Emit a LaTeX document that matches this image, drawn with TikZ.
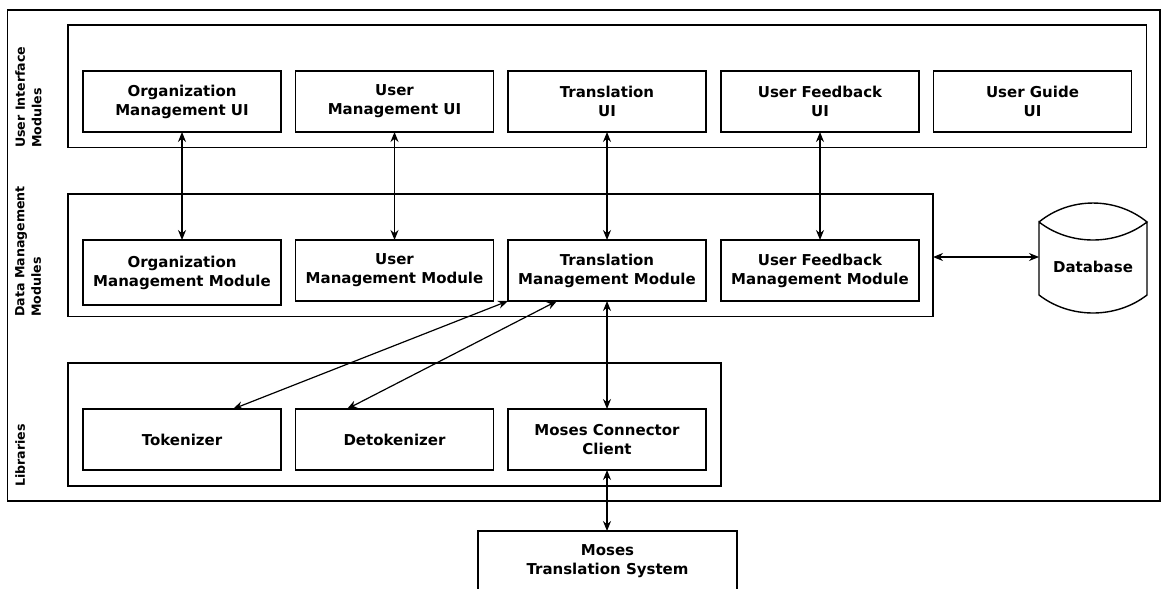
\documentclass[tikz,border=0pt]{standalone}
\usepackage{fontspec}
\setmainfont{DejaVu Sans}
\usetikzlibrary{arrows.meta,calc}
\begin{document}
\begin{tikzpicture}[x=1pt,y=-1pt,
  box/.style={draw, line width=1.4pt, inner sep=0pt, outer sep=0pt, align=center,
    font=\bfseries\fontsize{15}{19}\selectfont, minimum width=198pt, minimum height=61pt},
  group/.style={draw, line width=1.4pt, inner sep=0pt, outer sep=0pt},
  grouplabel/.style={rotate=90, anchor=north west, align=left, inner sep=0pt,
    font=\bfseries\fontsize{12.6}{16.5}\selectfont},
  conn/.style={line width=1.2pt, {Stealth[length=10pt,width=8pt]}-{Stealth[length=10pt,width=8pt]}}
]
\useasboundingbox (0,0) rectangle (1162,589);
\clip (0,0) rectangle (1162,589);

% frames
\node[group, minimum width=1152.5pt, minimum height=491pt] (outer) at (583.75,255.5) {};
\node[group, minimum width=1078.7pt, minimum height=122.7pt] (uig) at (607.35,86.35) {};
\node[group, minimum width=865pt, minimum height=122.7pt] (dmg) at (500.5,255.35) {};
\node[group, minimum width=653pt, minimum height=123pt] (libg) at (394.5,424.5) {};

% group labels
\node[grouplabel] (luig) at (15,148) {User Interface\\Modules};
\node[grouplabel] (ldmg) at (15,317) {Data Management\\Modules};
\node[grouplabel] (llib) at (15,487) {Libraries};

% row 1
\node[box] (oui) at (182,101.5) {Organization\\Management UI};
\node[box] (uui) at (394.5,101.5) {User\\Management UI};
\node[box] (tui) at (607,101.5) {Translation\\UI};
\node[box] (fui) at (820,101.5) {User Feedback\\UI};
\node[box] (gui) at (1032.5,101.5) {User Guide\\UI};

% row 2
\node[box, minimum height=65pt] (om) at (182,272.5) {Organization\\Management Module};
\node[box] (um) at (394.5,270.5) {User\\Management Module};
\node[box] (tm) at (607,270.5) {Translation\\Management Module};
\node[box] (fm) at (820,270.5) {User Feedback\\Management Module};

% row 3
\node[box] (tok) at (182,439.5) {Tokenizer};
\node[box] (detok) at (394.5,439.5) {Detokenizer};
\node[box] (mc) at (607,439.5) {Moses Connector\\Client};

% bottom
\node[box, minimum width=259pt] (mts) at (607.5,561.5) {Moses\\Translation System};

% database
\node[minimum width=108pt, minimum height=110pt, inner sep=0pt, outer sep=0pt] (db) at (1093,257) {};
\draw[line width=1.4pt] (1039,222) .. controls (1070,196.7) and (1116,196.7) .. (1147,222)
  .. controls (1116,246) and (1070,246) .. (1039,222) -- (1039,295)
  .. controls (1070,319) and (1116,319) .. (1147,295) -- (1147,222);
\node[font=\bfseries\fontsize{15}{19}\selectfont, inner sep=0pt] (dbt) at (1093,267) {Database};

% connectors
\draw[conn] (oui.south) -- (om.north);
\draw[conn] (uui.south) -- (um.north);
\draw[conn] (tui.south) -- (tm.north);
\draw[conn] (fui.south) -- (fm.north);
\draw[conn] (db.west -| dmg.east) -- (db.west);
\draw[conn] (tm.south west) -- ($(tok.north)+(51,0)$);
\draw[conn] ($(tm.south west)+(49,0)$) -- ($(detok.north)+(-47.5,0)$);
\draw[conn] (tm.south) -- (mc.north);
\draw[conn] (mc.south) -- (mc.south |- mts.north);
\end{tikzpicture}
\end{document}
